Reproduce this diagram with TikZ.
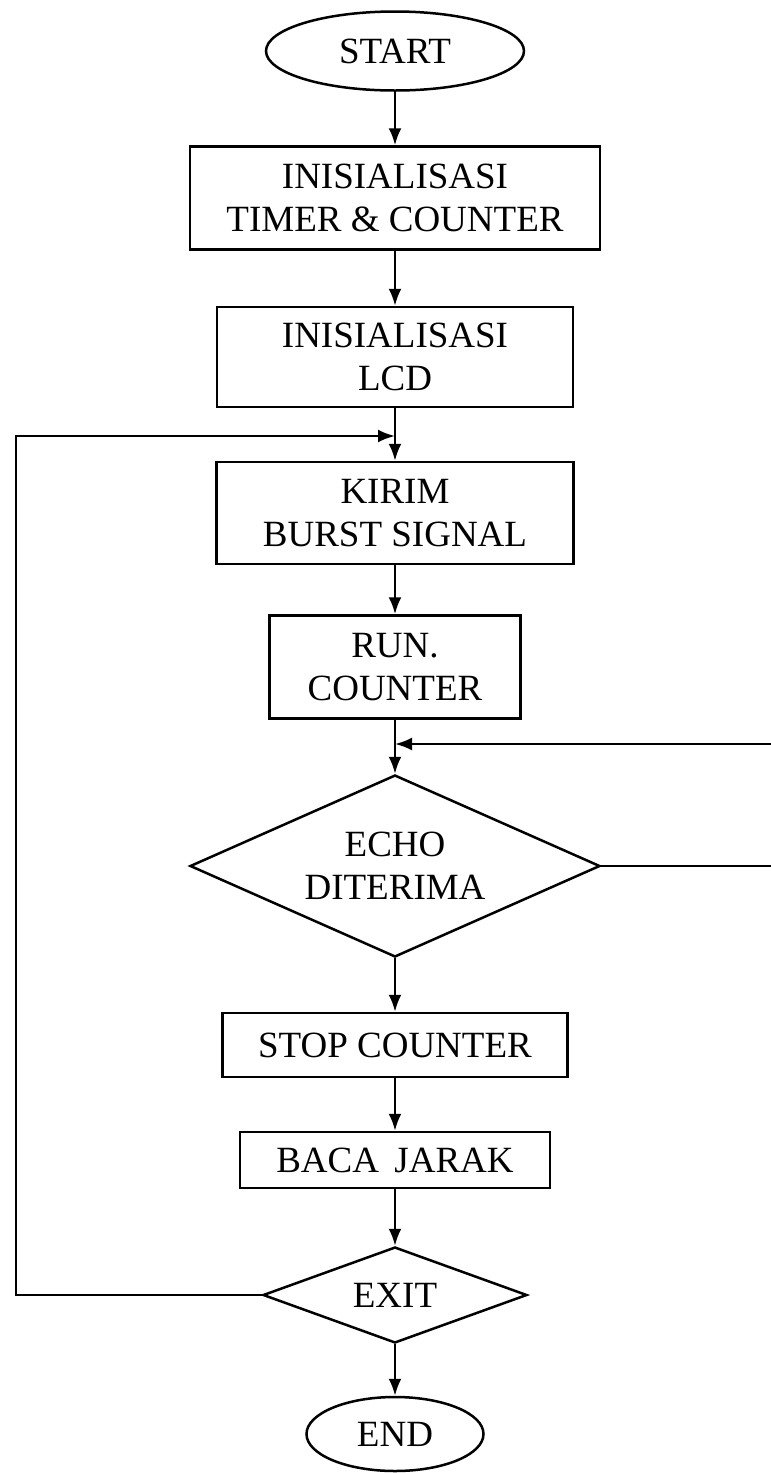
\documentclass[tikz,border=0pt]{standalone}
\usepackage{fontspec}
\setmainfont{Liberation Serif}
\usetikzlibrary{shapes.geometric, arrows.meta}

\tikzset{
  process/.style={draw, line width=2.5pt, rectangle, inner sep=0pt, align=center},
  decision/.style={draw, line width=2.5pt, diamond, aspect=2.3, inner sep=0pt, align=center},
  terminal/.style={draw, line width=2.5pt, ellipse, inner sep=0pt},
  flow/.style={-{Latex[length=17pt, width=13pt]}, line width=2.5pt},
}

\begin{document}
\begin{tikzpicture}[x=1pt, y=-1pt, font=\fontsize{37}{43}\selectfont]
\useasboundingbox (0,0) rectangle (771,1473);
\node[terminal, minimum width=258, minimum height=79] (start) at (395, 51) {START};
\node[process, minimum width=410, minimum height=103] (timer) at (395, 198) {INISIALISASI\\TIMER \& COUNTER};
\node[process, minimum width=356, minimum height=100] (lcd) at (395, 357) {INISIALISASI\\LCD};
\node[process, minimum width=357, minimum height=102] (kirim) at (395, 513) {KIRIM\\BURST SIGNAL};
\node[process, minimum width=251, minimum height=103] (run) at (395, 667) {RUN.\\COUNTER};
\node[decision, minimum width=410, minimum height=182] (echo) at (395, 866) {ECHO\\DITERIMA};
\node[process, minimum width=345, minimum height=64] (stop) at (395, 1045) {STOP COUNTER};
\node[process, minimum width=310, minimum height=56] (baca) at (395, 1160) {BACA\, JARAK};
\node[decision, minimum width=264, minimum height=96] (exit) at (395, 1295) {EXIT};
\node[terminal, minimum width=177, minimum height=74] (end) at (395, 1434) {END};

% loop points
\coordinate (j1) at (395, 436);
\coordinate (loopL) at (16, 436);
\coordinate (j2) at (395, 744);
\coordinate (inR) at (771, 744);
\coordinate (outR) at (771, 866);

\draw[flow] (start) -- (timer);
\draw[flow] (timer) -- (lcd);
\draw[flow] (lcd) -- (kirim);
\draw[flow] (kirim) -- (run);
\draw[flow] (run) -- (echo);
\draw[flow] (echo) -- (stop);
\draw[flow] (stop) -- (baca);
\draw[flow] (baca) -- (exit);
\draw[flow] (exit) -- (end);
\draw[flow] (exit.west) -| (loopL) -- (j1);
\draw[line width=2.5pt] (echo.east) -- (outR);
\draw[flow] (inR) -- (j2);
\end{tikzpicture}
\end{document}
